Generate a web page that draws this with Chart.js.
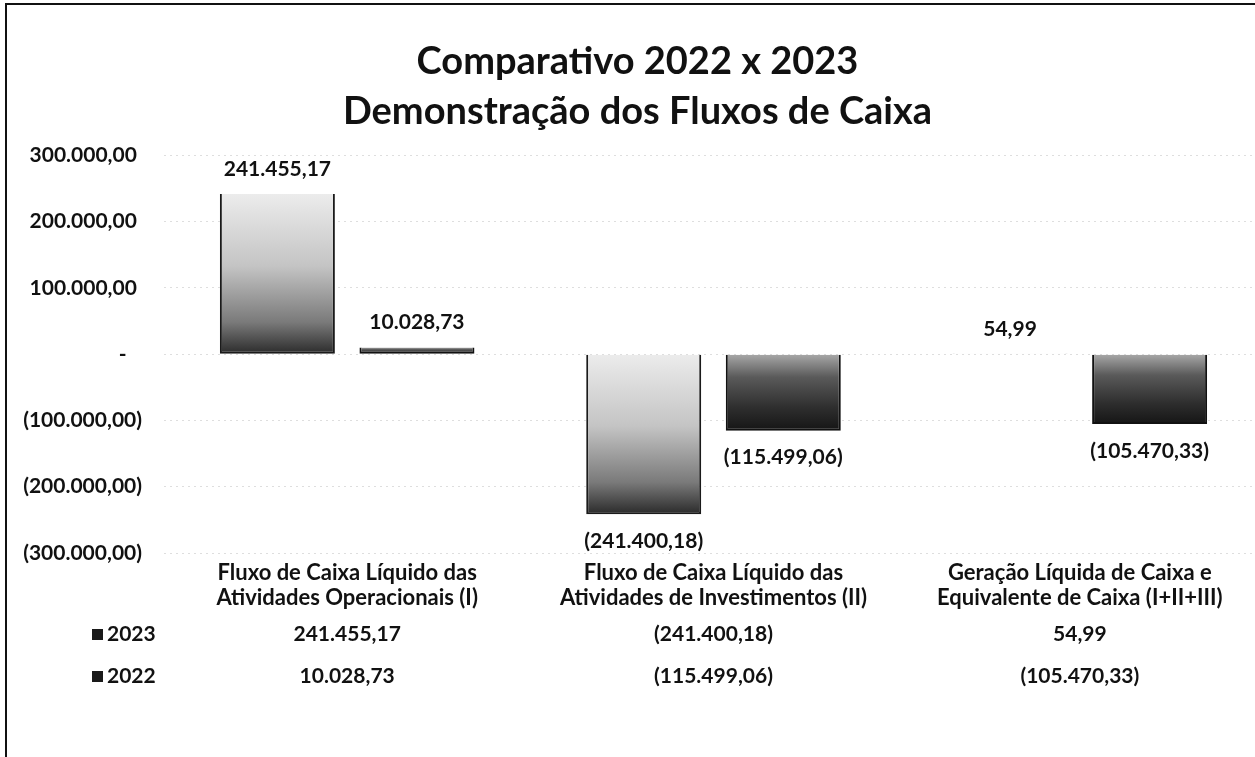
<!DOCTYPE html>
<html><head><meta charset="utf-8">
<script src="https://cdn.jsdelivr.net/npm/chart.js@4.4.1/dist/chart.umd.min.js"></script>
<style>
html,body{margin:0;padding:0;background:#fff;overflow:hidden;width:1255px;height:757px;}
#wrap{position:absolute;left:0;top:0;width:1263px;height:757px;}
#frame{position:absolute;left:5px;top:3px;width:1300px;height:800px;border-left:2px solid #111;border-top:2px solid #111;pointer-events:none;}
</style></head><body>
<div id="wrap"><canvas id="c" width="1263" height="757"></canvas></div>
<div id="frame"></div>
<script>
const categories = [
  ["Fluxo de Caixa Líquido das", "Atividades Operacionais (I)"],
  ["Fluxo de Caixa Líquido das", "Atividades de Investimentos (II)"],
  ["Geração Líquida de Caixa e", "Equivalente de Caixa (I+II+III)"]
];
const seriesNames = ["2023", "2022"];
const values2023 = [241455.17, -241400.18, 54.99];
const values2022 = [10028.73, -115499.06, -105470.33];
const yTicks = [300000, 200000, 100000, 0, -100000, -200000, -300000];
const titleLines = ["Comparativo 2022 x 2023", "Demonstração dos Fluxos de Caixa"];

const FONT = "Lato";
function fmtNum(v) {
  const a = Math.abs(v);
  const parts = a.toFixed(2).split(".");
  const int = parts[0].replace(/\B(?=(\d{3})+(?!\d))/g, ".");
  const s = int + "," + parts[1];
  if (v === 0) return "-";
  return v < 0 ? "(" + s + ")" : s;
}
function tickLabel(v) {
  if (v === 0) return "-   ";
  return v < 0 ? fmtNum(v) : fmtNum(v) + " ";
}

const stopsLight = [[0, "#ececec"], [0.45, "#c4c4c4"], [0.8, "#7a7a7a"], [1, "#2a2a2a"]];
const stopsDark = [[0, "#a8a8a8"], [0.3, "#5a5a5a"], [0.7, "#2e2e2e"], [1, "#151515"]];
function barFill(stops) {
  return function (c) {
    if (c.type !== "data") return stops[2][1];
    const ys = c.chart.scales.y;
    if (!ys) return stops[2][1];
    const p0 = ys.getPixelForValue(0), p1 = ys.getPixelForValue(c.raw);
    if (!isFinite(p0) || !isFinite(p1)) return stops[2][1];
    let top = Math.min(p0, p1), bot = Math.max(p0, p1);
    if (bot - top < 1) bot = top + 1;
    const g = c.chart.ctx.createLinearGradient(0, top, 0, bot);
    stops.forEach(s => g.addColorStop(s[0], s[1]));
    return g;
  };
}

const dataLabels = {
  id: "dataLabels",
  afterDatasetsDraw(chart) {
    const ctx = chart.ctx;
    ctx.save();
    ctx.font = "bold 21px " + FONT;
    ctx.fillStyle = "#111";
    ctx.textAlign = "center";
    ctx.textBaseline = "middle";
    chart.data.datasets.forEach((ds, di) => {
      chart.getDatasetMeta(di).data.forEach((el, i) => {
        const v = ds.data[i];
        const y = v >= 0 ? el.y - 25 : el.y + 27;
        ctx.fillText(fmtNum(v), el.x, y);
      });
    });
    ctx.restore();
  }
};

const dataTable = {
  id: "dataTable",
  afterDraw(chart) {
    const ctx = chart.ctx;
    const xs = chart.scales.x;
    const rows = [values2023, values2022];
    const rowY = [634, 676];
    ctx.save();
    ctx.font = "bold 21px " + FONT;
    ctx.textBaseline = "middle";
    rows.forEach((vals, r) => {
      const y = rowY[r];
      ctx.fillStyle = "#1a1a1a";
      ctx.fillRect(92, y - 5, 11, 11);
      ctx.fillStyle = "#111";
      ctx.textAlign = "left";
      ctx.fillText(seriesNames[r], 107, y);
      ctx.textAlign = "center";
      vals.forEach((v, i) => ctx.fillText(fmtNum(v), xs.getPixelForValue(i), y));
    });
    ctx.restore();
  }
};

const chart = new Chart(document.getElementById("c"), {
  type: "bar",
  data: {
    labels: categories,
    datasets: [
      { label: seriesNames[0], data: values2023, backgroundColor: barFill(stopsLight),
        borderColor: "#1a1a1a", borderWidth: { top: 0, left: 2, right: 2, bottom: 2 }, borderSkipped: false },
      { label: seriesNames[1], data: values2022, backgroundColor: barFill(stopsDark),
        borderColor: "#111", borderWidth: { top: 0, left: 2, right: 2, bottom: 2 }, borderSkipped: false }
    ]
  },
  options: {
    responsive: false,
    animation: false,
    categoryPercentage: 0.762,
    barPercentage: 0.824,
    layout: { padding: { left: 12, right: 0, top: 0, bottom: 0 } },
    plugins: {
      legend: { display: false },
      tooltip: { enabled: false },
      title: {
        display: true,
        text: titleLines,
        color: "#111",
        font: { family: FONT, size: 38, weight: "bold", lineHeight: 1.32 },
        padding: { top: 37, bottom: 18 }
      }
    },
    scales: {
      x: {
        grid: { display: false, drawTicks: false },
        border: { display: false },
        ticks: { color: "#111", font: { family: FONT, size: 22, weight: "bold", lineHeight: 1.12 },
                 padding: 8, maxRotation: 0, autoSkip: false },
        afterFit: s => { s.height = 204; }
      },
      y: {
        min: -300000, max: 300000,
        afterBuildTicks: s => { s.ticks = yTicks.map(v => ({ value: v })); },
        grid: { color: "rgba(0,0,0,0.13)", drawTicks: false },
        border: { display: false, dash: [2, 4] },
        ticks: { color: "#111", font: { family: FONT, size: 21, weight: "bold" }, padding: 22,
                 crossAlign: "near", callback: v => tickLabel(v) },
        afterFit: s => { s.width = 152; }
      }
    }
  },
  plugins: [dataLabels, dataTable]
});
chart.update();
</script>
</body></html>
